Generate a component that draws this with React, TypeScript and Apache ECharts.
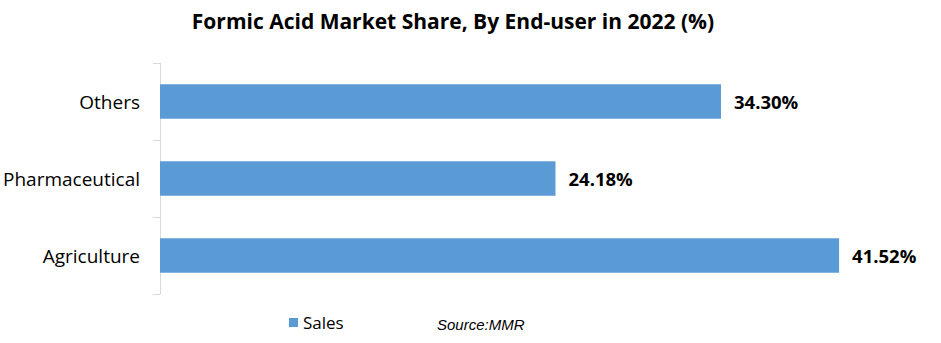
import React, { useEffect, useRef } from "react";
import * as echarts from "echarts";

const categories = ["Agriculture", "Pharmaceutical", "Others"];
const salesValues = [41.52, 24.18, 34.3];
const seriesName = "Sales";
const titleText = "Formic Acid Market Share, By End-user in 2022 (%)";
const sourceText = "Source:MMR";

export default function App() {
  const ref = useRef<HTMLDivElement>(null);
  useEffect(() => {
    if (!ref.current) return;
    const chart = echarts.init(ref.current, undefined, { renderer: "svg" });
    chart.setOption({
      animation: false,
      backgroundColor: "#ffffff",
      title: {
        text: titleText,
        left: 448,
        textAlign: "center",
        top: 5,
        textStyle: { fontFamily: "Open Sans", fontWeight: "bold", fontSize: 21, color: "#000" },
      },
      legend: {
        data: [seriesName],
        left: 284,
        top: 309,
        itemWidth: 9,
        itemHeight: 9,
        itemGap: 6,
        icon: "rect",
        textStyle: { fontFamily: "Open Sans", fontSize: 17, color: "#000" },
      },
      graphic: [
        {
          type: "text",
          left: 437,
          top: 317,
          style: { text: sourceText, font: "italic 15px 'Liberation Sans'", fill: "#000" },
        },
      ],
      grid: { left: 160, right: 45, top: 63, bottom: 49, containLabel: false },
      xAxis: {
        type: "value",
        min: 0,
        max: 45,
        axisLine: { show: false },
        axisTick: { show: false },
        axisLabel: { show: false },
        splitLine: { show: false },
      },
      yAxis: {
        type: "category",
        data: categories,
        axisLine: { show: true, lineStyle: { color: "#D9D9D9", width: 1 } },
        axisTick: { show: true, length: 7, lineStyle: { color: "#D9D9D9" } },
        axisLabel: { fontFamily: "Open Sans", fontSize: 19, color: "#000", margin: 20 },
      },
      series: [
        {
          name: seriesName,
          type: "bar",
          data: salesValues,
          barCategoryGap: "55%",
          itemStyle: { color: "#5B9BD5" },
          label: {
            show: true,
            position: "right",
            distance: 13,
            formatter: (p: any) => p.value.toFixed(2) + "%",
            fontFamily: "Open Sans",
            fontWeight: "bold",
            fontSize: 18.5,
            color: "#000",
          },
        },
      ],
    });
    return () => chart.dispose();
  }, []);
  return <div ref={ref} style={{ width: 941, height: 343, position: "absolute", left: 0, top: 0 }} />;
}
